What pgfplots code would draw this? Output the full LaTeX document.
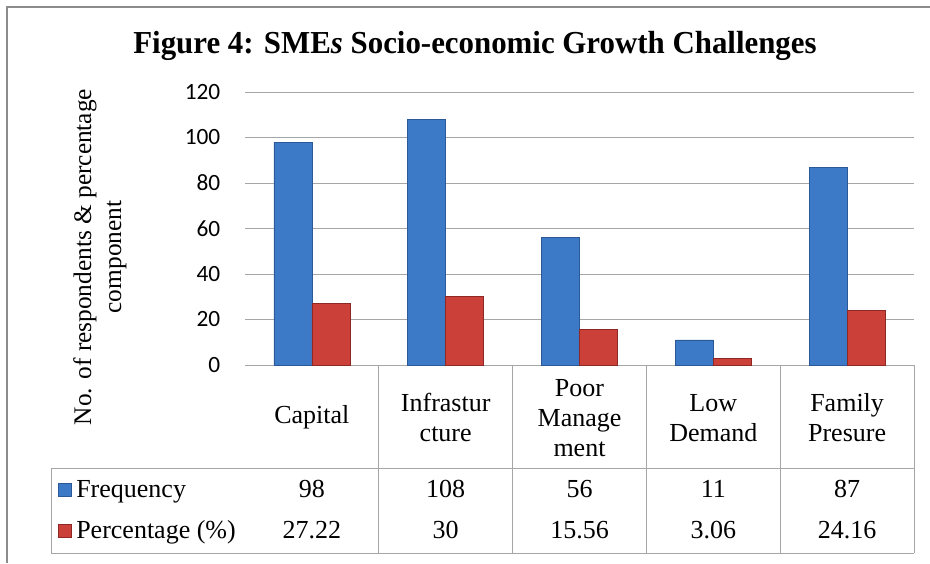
\documentclass[border=0pt]{standalone}
\usepackage{fontspec}
\setmainfont{Liberation Serif}
\newfontfamily\calibri{Carlito}
\usepackage{pgfplots}
\usepackage{pgfplotstable}
\pgfplotsset{compat=1.18}
\definecolor{gridgray}{HTML}{A6A6A6}
\definecolor{framegray}{HTML}{8C8C8C}
\definecolor{bluemid}{HTML}{3C79C6}
\definecolor{blueedge}{HTML}{2B5896}
\definecolor{redmid}{HTML}{CC403A}
\definecolor{rededge}{HTML}{8E2824}

\pgfplotstableread{
idx freq pct
0 98 27.22
1 108 30
2 56 15.56
3 11 3.06
4 87 24.16
}\datatable

\newcommand{\tabfont}{\fontsize{19.5}{22.5}\selectfont}

\begin{document}
\begin{tikzpicture}[x=0.75pt,y=0.75pt]
\path[use as bounding box] (0,0) rectangle (930,-563);
\draw[framegray, line width=1.5pt] (7,-563) -- (7,-7) -- (930,-7);

\node[font=\bfseries\fontsize{24}{28}\selectfont] at (475,-46) {\scalebox{0.965}[1]{Figure 4: SME\textit{s} Socio-economic Growth Challenges}};

\begin{axis}[
  at={(183.75pt,-273.75pt)}, anchor=south west,
  width=501.75pt, height=204.75pt, scale only axis,
  xmin=-0.5, xmax=4.5, ymin=0, ymax=120,
  ytick={0,20,...,120},
  xtick={0,1,2,3,4},
  xticklabels={Capital, {Infrastur\\cture}, {Poor\\Manage\\ment}, {Low\\Demand}, {Family\\Presure}},
  xticklabel style={align=center, anchor=center, yshift=-39.5pt, font=\tabfont},
  major tick length=0pt,
  axis line style={draw=none},
  ymajorgrids, grid style={gridgray, line width=0.75pt},
  ybar=0pt, bar width=28.5pt,
  /pgf/number format/assume math mode=true,
  yticklabel style={font=\calibri\fontsize{17.5}{20}\selectfont, xshift=-15pt},
  clip=false,
]
\addplot[draw=blueedge, fill=bluemid, line width=0.6pt] table[x=idx,y=freq]{\datatable};
\addplot[draw=rededge, fill=redmid, line width=0.6pt] table[x=idx,y=pct]{\datatable};
\end{axis}

% data table grid
\draw[gridgray, line width=0.75pt] (51,-468) -- (914,-468);
\draw[gridgray, line width=0.75pt] (51,-553) -- (914,-553);
\draw[gridgray, line width=0.75pt] (51,-468) -- (51,-553);
\foreach \k in {1,2,3,4,5} {
  \draw[gridgray, line width=0.75pt] ({245+133.8*\k},-365) -- ({245+133.8*\k},-553);
}
% legend column
\draw[blueedge, fill=bluemid] (58,-483) rectangle (71,-496);
\draw[rededge, fill=redmid] (58,-524) rectangle (71,-537);
\node[anchor=base west, inner sep=0pt, font=\tabfont] at (76,-497) {Frequency};
\node[anchor=base west, inner sep=0pt, font=\tabfont] at (76,-538) {Percentage (\%)};
\foreach \i in {0,...,4} {
  \pgfplotstablegetelem{\i}{freq}\of\datatable
  \node[anchor=base, inner sep=0pt, font=\tabfont] at ({245+66.9+133.8*\i},-497) {\pgfplotsretval};
  \pgfplotstablegetelem{\i}{pct}\of\datatable
  \node[anchor=base, inner sep=0pt, font=\tabfont] at ({245+66.9+133.8*\i},-538) {\pgfplotsretval};
}
% y label
\node[rotate=90, align=center, font=\fontsize{19}{22.5}\selectfont] at (100,-257) {No. of respondents \& percentage\\component};
\end{tikzpicture}
\end{document}
